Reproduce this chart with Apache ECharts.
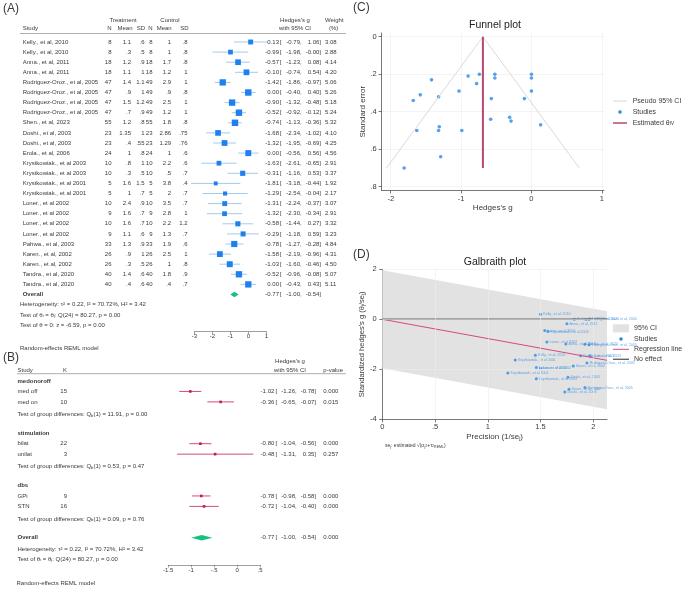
<!DOCTYPE html>
<html>
<head>
<meta charset="utf-8">
<script src="https://cdn.jsdelivr.net/npm/echarts@6/dist/echarts.min.js"></script>
<style>
  html, body { margin: 0; padding: 0; background: #fff; }
  #chart { width: 689px; height: 591px; }
</style>
</head>
<body>
<div id="chart"></div>
<script>
// ---------- (A) forest plot data
const studies = [
  'Kelly., et al, 2010', 'Kelly., et al, 2010', 'Anna., et al, 2011', 'Anna., et al, 2011',
  'Rodriguez-Oroz., et al, 2005', 'Rodriguez-Oroz., et al, 2005', 'Rodriguez-Oroz., et al, 2005', 'Rodriguez-Oroz., et al, 2005',
  'Shen., et al, 2023', 'Doshi., et al, 2003', 'Doshi., et al, 2003', 'Erola., et al, 2006',
  'Krystkowiak., et al 2003', 'Krystkowiak., et al 2003', 'Krystkowiak., et al 2001', 'Krystkowiak., et al 2001',
  'Loner., et al 2002', 'Loner., et al 2002', 'Loner., et al 2002', 'Loner., et al 2002',
  'Pahwa., et al, 2003', 'Karen., et al, 2002', 'Karen., et al, 2002', 'Tandra., et al, 2020', 'Tandra., et al, 2020'
]
const nT    = [8, 8, 18, 18, 47, 47, 47, 47, 55, 23, 23, 24, 10, 10, 5, 5, 10, 9, 10, 9, 33, 26, 26, 40, 40]
const meanT = [1.1, 0.3, 1.2, 1.1, 1.4, 0.9, 1.5, 0.7, 1.2, 1.35, 0.4, 1, 0.8, 0.3, 1.6, 1, 2.4, 1.6, 1.6, 1.1, 1.3, 0.9, 0.3, 1.4, 0.4]
const sdT   = [0.6, 0.5, 0.9, 1, 1.1, 1, 1.2, 0.9, 0.8, 1, 0.55, 0.8, 1, 0.5, 1.5, 0.7, 0.9, 0.7, 0.7, 0.6, 0.9, 1, 0.5, 0.6, 0.6]
const nC    = [8, 8, 18, 18, 49, 49, 49, 49, 55, 23, 23, 24, 10, 10, 5, 5, 10, 9, 10, 9, 33, 26, 26, 40, 40]
const meanC = [1, 1, 1.7, 1.2, 2.9, 0.9, 2.5, 1.2, 1.8, 2.86, 1.29, 1, 2.2, 0.5, 3.8, 2, 3.5, 2.8, 2.2, 1.3, 1.9, 2.5, 1, 1.8, 0.4]
const sdC   = [0.8, 0.8, 0.8, 1, 1, 0.8, 1, 1, 0.8, 0.75, 0.76, 0.6, 0.6, 0.7, 0.4, 0.7, 0.7, 1, 1.2, 0.7, 0.6, 1, 0.8, 0.9, 0.7]
const hedgesG = [0.13, -0.99, -0.57, -0.10, -1.42, 0.00, -0.90, -0.52, -0.74, -1.68, -1.32, 0.00, -1.63, -0.31, -1.81, -1.29, -1.31, -1.32, -0.58, -0.29, -0.78, -1.58, -1.03, -0.52, 0.00]
const ciLow   = [-0.79, -1.98, -1.23, -0.74, -1.86, -0.40, -1.32, -0.92, -1.13, -2.34, -1.95, -0.56, -2.61, -1.16, -3.18, -2.54, -2.24, -2.30, -1.44, -1.18, -1.27, -2.19, -1.60, -0.96, -0.43]
const ciHigh  = [1.06, -0.00, 0.08, 0.54, -0.97, 0.40, -0.48, -0.12, -0.36, -1.02, -0.69, 0.56, -0.65, 0.53, -0.44, -0.04, -0.37, -0.34, 0.27, 0.59, -0.28, -0.96, -0.46, -0.08, 0.43]
const weights = [3.08, 2.88, 4.14, 4.20, 5.06, 5.26, 5.18, 5.24, 5.32, 4.10, 4.25, 4.56, 2.91, 3.37, 1.92, 2.17, 3.07, 2.91, 3.32, 3.23, 4.84, 4.31, 4.50, 5.07, 5.11]
const overallEst = [-0.77, -1.00, -0.54]

// ---------- (B) subgroup data
const groupNames  = ['medonoroff', 'stimulation', 'dbs']
const groupLevels = [['med off', 'med on'], ['bilat', 'unilat'], ['GPi', 'STN']]
const groupK    = [[15, 10], [22, 3], [9, 16]]
const groupG    = [[-1.02, -0.36], [-0.80, -0.48], [-0.78, -0.72]]
const groupLow  = [[-1.26, -0.65], [-1.04, -1.31], [-0.98, -1.04]]
const groupHigh = [[-0.78, -0.07], [-0.56, 0.35], [-0.58, -0.40]]
const groupP    = [['0.000', '0.015'], ['0.000', '0.257'], ['0.000', '0.000']]
const groupQ    = ['11.91', '0.53', '0.09']
const groupQp   = ['0.00', '0.47', '0.76']

// ---------- (C) funnel plot data
const stdErr = [0.47, 0.50, 0.33, 0.33, 0.23, 0.20, 0.21, 0.20, 0.20, 0.34, 0.32, 0.29, 0.50, 0.43, 0.70, 0.64, 0.48, 0.50, 0.44, 0.45, 0.25, 0.31, 0.29, 0.22, 0.22]
const pseudoX = [-2.06, -0.69, 0.68]
const pseudoY = [0.70, 0, 0.70]
const thetaX = [-0.69, -0.69]
const thetaY = [0, 0.70]

// ---------- (D) galbraith plot data
const precision = [1.50, 1.45, 1.74, 1.75, 1.92, 1.96, 1.94, 1.96, 1.97, 1.73, 1.76, 1.82, 1.46, 1.57, 1.19, 1.26, 1.50, 1.46, 1.56, 1.54, 1.88, 1.77, 1.81, 1.92, 1.93]
const stdG      = [0.20, -1.44, -0.99, -0.18, -2.73, 0.00, -1.75, -1.02, -1.46, -2.91, -2.32, 0.00, -2.38, -0.49, -2.15, -1.63, -1.96, -1.93, -0.91, -0.45, -1.46, -2.80, -1.87, -1.00, 0.00]
const bandX   = [0, 2.13]
const bandUp  = [1.96, 0.32]
const bandLow = [-1.96, -3.60]
const regX = [0, 2.13]
const regY = [0, -1.64]

// ---------- tick labels
const forestATicks = [-3, -2, -1, 0, 1]
const forestBTicks = [-1.5, -1, -0.5, 0, 0.5]
const funnelXTicks = [-2, -1, 0, 1]
const funnelYTicks = [0, 0.2, 0.4, 0.6, 0.8]
const galXTicks = [0, 0.5, 1, 1.5, 2]
const galYTicks = [-4, -2, 0, 2]

const FONT = '"Liberation Sans", Arial, Helvetica, sans-serif'
const TXT = '#3a3a3a'
const FS = 6

// stata style number: .5 instead of 0.5
const short = v => String(+v.toFixed(2)).replace(/^(-?)0\./, '$1.')
const f2 = v => ((v < 0 || Object.is(v, -0)) ? '-' : '') + Math.abs(v).toFixed(2)

const chart = echarts.init(document.getElementById('chart'))

// text drawn in a table grid (x in px units, y in rows)
function textSeries(idx, items) {
  return {
    type: 'custom', xAxisIndex: idx, yAxisIndex: idx, clip: false, silent: true, z: 5,
    data: items.map(it => [it.x, it.row]),
    renderItem: (params, api) => {
      const it = items[params.dataIndex]
      const p = api.coord([api.value(0), api.value(1)])
      return {
        type: 'text', x: p[0], y: p[1],
        style: {
          text: String(it.text), fontSize: FS, fontFamily: FONT, fill: TXT,
          fontWeight: it.bold ? 'bold' : 'normal',
          textAlign: it.align || 'left', align: it.align || 'left',
          textVerticalAlign: 'middle', verticalAlign: 'middle', rich: it.rich
        }
      }
    }
  }
}

const subRich = {
  a: { fontSize: FS, fontFamily: FONT, color: TXT },
  b: { fontSize: 4.2, fontFamily: FONT, color: TXT, verticalAlign: 'bottom' },
  c: { fontSize: 4.2, fontFamily: FONT, color: TXT, verticalAlign: 'top' }
}

// ---- table A items
const tableA = []
const colsA = [
  [nT, 111.5, 'right', v => v], [meanT, 131, 'right', short], [sdT, 144.5, 'right', short],
  [nC, 152.5, 'right', v => v], [meanC, 171.2, 'right', short], [sdC, 187.5, 'right', short]
]
studies.forEach((s, i) => {
  tableA.push({ x: 22.7, row: i, text: s })
  colsA.forEach(c => tableA.push({ x: c[1], row: i, text: c[3](c[0][i]), align: c[2] }))
  tableA.push({ x: 279, row: i, text: f2(hedgesG[i]), align: 'right' })
  tableA.push({ x: 280, row: i, text: '[' })
  tableA.push({ x: 301.7, row: i, text: f2(ciLow[i]) + ',', align: 'right' })
  tableA.push({ x: 321, row: i, text: f2(ciHigh[i]) + ']', align: 'right' })
  tableA.push({ x: 325, row: i, text: weights[i].toFixed(2) })
})
const rowOverallA = studies.length
tableA.push({ x: 22.7, row: rowOverallA, text: 'Overall', bold: true })
tableA.push({ x: 279, row: rowOverallA, text: f2(overallEst[0]), align: 'right' })
tableA.push({ x: 280, row: rowOverallA, text: '[' })
tableA.push({ x: 301.7, row: rowOverallA, text: f2(overallEst[1]) + ',', align: 'right' })
tableA.push({ x: 321, row: rowOverallA, text: f2(overallEst[2]) + ']', align: 'right' })

// ---- table B items
const tableB = []
const forestB = []
groupNames.forEach((gname, j) => {
  const base = j * 5
  tableB.push({ x: 17.5, row: base, text: gname, bold: true })
  groupLevels[j].forEach((lv, m) => {
    const r = base + 1 + m
    tableB.push({ x: 17.5, row: r, text: lv })
    tableB.push({ x: 67, row: r, text: groupK[j][m], align: 'right' })
    tableB.push({ x: 274.3, row: r, text: f2(groupG[j][m]), align: 'right' })
    tableB.push({ x: 275.5, row: r, text: '[' })
    tableB.push({ x: 296.7, row: r, text: f2(groupLow[j][m]) + ',', align: 'right' })
    tableB.push({ x: 316, row: r, text: f2(groupHigh[j][m]) + ']', align: 'right' })
    tableB.push({ x: 323.3, row: r, text: groupP[j][m] })
    forestB.push([groupG[j][m], r, groupLow[j][m], groupHigh[j][m]])
  })
  tableB.push({
    x: 17.5, row: base + 3.2, text: '{a|Test of group differences: Q}{b|b}{a|(1) = ' + groupQ[j] + ', p = ' + groupQp[j] + '}',
    rich: subRich
  })
})
const rowOverallB = 15
tableB.push({ x: 17.5, row: rowOverallB, text: 'Overall', bold: true })
tableB.push({ x: 274.3, row: rowOverallB, text: f2(overallEst[0]), align: 'right' })
tableB.push({ x: 275.5, row: rowOverallB, text: '[' })
tableB.push({ x: 296.7, row: rowOverallB, text: f2(overallEst[1]) + ',', align: 'right' })
tableB.push({ x: 316, row: rowOverallB, text: f2(overallEst[2]) + ']', align: 'right' })
tableB.push({ x: 323.3, row: rowOverallB, text: '0.000' })

function diamond(idx, row, color) {
  return {
    type: 'custom', xAxisIndex: idx, yAxisIndex: idx, clip: false, silent: true,
    data: [[overallEst[0], row]],
    renderItem: (params, api) => {
      const l = api.coord([overallEst[1], row]), c = api.coord([overallEst[0], row]), h = api.coord([overallEst[2], row])
      return { type: 'polygon', shape: { points: [[l[0], l[1]], [c[0], c[1] - 2.8], [h[0], h[1]], [c[0], c[1] + 2.8]] }, style: { fill: color } }
    }
  }
}

function forestAxis(idx, min, max, ticks, margin) {
  return {
    gridIndex: idx, type: 'value', min, max, interval: ticks[1] - ticks[0],
    axisLine: { onZero: false, lineStyle: { color: '#777', width: 0.7 } },
    axisTick: { length: 2.5, lineStyle: { color: '#777', width: 0.7 } },
    axisLabel: { fontSize: FS, fontFamily: FONT, color: TXT, margin, formatter: short },
    splitLine: { show: false }
  }
}
const hidden = (idx, min, max, inverse) => ({ gridIndex: idx, type: 'value', min, max, inverse, show: false })

const A_TOP = 42, A_STEP = 10.1, A_ROWS = 28.68
const B_TOP = 381, B_STEP = 10.45, B_ROWS = 17.6

const axisCommon = {
  axisLine: { onZero: false, lineStyle: { color: '#555', width: 0.8 } },
  axisTick: { length: 3, lineStyle: { color: '#555', width: 0.8 } },
  splitLine: { show: false },
  nameLocation: 'middle',
  nameTextStyle: { fontSize: 8, fontFamily: FONT, color: TXT }
}
const labelStyle = { fontSize: 7.5, fontFamily: FONT, color: TXT, formatter: short }

const gridLine = { color: '#ececec', width: 0.6, type: 'solid' }

function T(x, y, text, o) {
  o = o || {}
  return {
    type: 'text', x, y, silent: true, z: 10,
    style: {
      text, fontSize: o.size || FS, fontFamily: FONT, fill: o.color || TXT,
      fontWeight: o.bold ? 'bold' : 'normal',
      textAlign: o.align || 'left', align: o.align || 'left',
      textVerticalAlign: 'middle', verticalAlign: 'middle', rich: o.rich
    }
  }
}
const L = (x1, y1, x2, y2, color, w) => ({ type: 'line', silent: true, shape: { x1, y1, x2, y2 }, style: { stroke: color, lineWidth: w } })

const legRich = {
  a: { fontSize: 7, fontFamily: FONT, color: TXT },
  b: { fontSize: 4.6, fontFamily: FONT, color: TXT, verticalAlign: 'bottom' }
}
const noteRich = {
  a: { fontSize: 5, fontFamily: FONT, color: TXT },
  b: { fontSize: 3.6, fontFamily: FONT, color: TXT, verticalAlign: 'bottom' },
  c: { fontSize: 3.6, fontFamily: FONT, color: TXT, verticalAlign: 'top' }
}

const graphics = [
  // panel A header
  T(3, 9, '(A)', { size: 12 }),
  T(123, 20, 'Treatment', { align: 'center' }),
  T(170, 20, 'Control', { align: 'center' }),
  T(295, 20, "Hedges's g", { align: 'center' }),
  T(325, 20, 'Weight'),
  T(22.7, 28.7, 'Study'),
  T(111.5, 28.7, 'N', { align: 'right' }), T(132.5, 28.7, 'Mean', { align: 'right' }), T(145, 28.7, 'SD', { align: 'right' }),
  T(152.5, 28.7, 'N', { align: 'right' }), T(171.7, 28.7, 'Mean', { align: 'right' }), T(188.5, 28.7, 'SD', { align: 'right' }),
  T(295, 28.7, 'with 95% CI', { align: 'center' }),
  T(329, 28.7, '(%)'),
  L(20, 33.5, 346, 33.5, '#8a8a8a', 0.7),
  T(20, 304.3, 'Heterogeneity: τ² = 0.22, I² = 70.72%, H² = 3.42'),
  T(20, 315, '{a|Test of θ}{b|i}{a| = θ}{b|j}{a|: Q(24) = 80.27, p = 0.00}', { rich: subRich }),
  T(20, 325.3, 'Test of θ = 0: z = -6.59, p = 0.00'),
  T(20, 348.3, 'Random-effects REML model'),
  // panel B header
  T(3, 358, '(B)', { size: 12 }),
  T(290, 361.7, "Hedges's g", { align: 'center' }),
  T(290, 370, 'with 95% CI', { align: 'center' }),
  T(17.5, 370, 'Study'),
  T(67, 370, 'K', { align: 'right' }),
  T(323.3, 370, 'p-value'),
  L(17, 373.7, 346, 373.7, '#8a8a8a', 0.7),
  T(17.5, 549, 'Heterogeneity: τ² = 0.22, I² = 70.72%, H² = 3.42'),
  T(17.5, 559.3, '{a|Test of θ}{b|i}{a| = θ}{b|j}{a|: Q(24) = 80.27, p = 0.00}', { rich: subRich }),
  T(16.5, 583.3, 'Random-effects REML model'),
  // panel C
  T(353, 8, '(C)', { size: 12 }),
  T(495, 25, 'Funnel plot', { size: 10.5, align: 'center', color: '#222' }),
  L(613, 101, 627, 101, '#d6d6d6', 1),
  T(632.7, 101, 'Pseudo 95% CI', { size: 7 }),
  { type: 'circle', silent: true, shape: { cx: 620, cy: 112, r: 1.8 }, style: { fill: '#2a8ae6' } },
  T(632.7, 112, 'Studies', { size: 7 }),
  L(613, 123, 627, 123, '#b8486e', 1.5),
  T(632.7, 123, '{a|Estimated θ}{b|IV}', { rich: legRich }),
  // panel D
  T(353, 255, '(D)', { size: 12 }),
  T(495, 261.7, 'Galbraith plot', { size: 10.5, align: 'center', color: '#222' }),
  { type: 'rect', silent: true, shape: { x: 613, y: 324.3, width: 16, height: 8 }, style: { fill: '#e2e2e2' } },
  T(634, 328.3, '95% CI', { size: 7 }),
  { type: 'circle', silent: true, shape: { cx: 621, cy: 339, r: 1.8 }, style: { fill: '#2a8ae6' } },
  T(634, 339, 'Studies', { size: 7 }),
  L(613, 349.3, 629, 349.3, '#d54a7c', 1),
  T(634, 349.3, 'Regression line', { size: 7 }),
  L(613, 359.3, 629, 359.3, '#666', 1.4),
  T(634, 359.3, 'No effect', { size: 7 }),
  T(385, 446, '{a|se}{b|j}{a|: estimated √(σ}{b|j}{c|2}{a|+τ}{c|2}{b|REML}{a|)}', { rich: noteRich })
]

chart.setOption({
  animation: false,
  graphic: { elements: graphics },
  grid: [
    { left: 0, width: 689, top: A_TOP, height: A_ROWS * A_STEP },
    { left: 194.3, width: 72, top: A_TOP, height: A_ROWS * A_STEP },
    { left: 0, width: 689, top: B_TOP, height: B_ROWS * B_STEP },
    { left: 168.2, width: 92, top: B_TOP, height: B_ROWS * B_STEP },
    { left: 381.6, width: 222.3, top: 32.95, height: 157.5 },
    { left: 382.3, width: 224.7, top: 269.3, height: 150 }
  ],
  xAxis: [
    hidden(0, 0, 689, false),
    forestAxis(1, -3, 1, forestATicks, 1.5),
    hidden(2, 0, 689, false),
    forestAxis(3, -1.5, 0.5, forestBTicks, 2.5),
    Object.assign({}, axisCommon, {
      gridIndex: 4, type: 'value', min: -2.13, max: 1.03,
      axisTick: Object.assign({}, axisCommon.axisTick, { customValues: funnelXTicks }),
      axisLabel: Object.assign({}, labelStyle, { customValues: funnelXTicks, margin: 4.5 }),
      name: "Hedges's g", nameGap: 12.8
    }),
    Object.assign({}, axisCommon, {
      gridIndex: 5, type: 'value', min: 0, max: 2.13,
      axisTick: Object.assign({}, axisCommon.axisTick, { customValues: galXTicks }),
      axisLabel: Object.assign({}, labelStyle, { customValues: galXTicks, margin: 3.7 }),
      name: '{a|Precision (1/se}{b|j}{a|)}', nameGap: 13.4,
      nameTextStyle: { rich: { a: { fontSize: 8, fontFamily: FONT, color: TXT }, b: { fontSize: 5.4, fontFamily: FONT, color: TXT, verticalAlign: 'bottom' } } }
    })
  ],
  yAxis: [
    hidden(0, 0, A_ROWS, true),
    hidden(1, 0, A_ROWS, true),
    hidden(2, 0, B_ROWS, true),
    hidden(3, 0, B_ROWS, true),
    Object.assign({}, axisCommon, {
      gridIndex: 4, type: 'value', min: -0.02, max: 0.82, inverse: true,
      axisTick: Object.assign({}, axisCommon.axisTick, { customValues: funnelYTicks }),
      axisLabel: Object.assign({}, labelStyle, { customValues: funnelYTicks, margin: 5 }),
      name: 'Standard error', nameGap: 14.9, nameRotate: 90
    }),
    Object.assign({}, axisCommon, {
      gridIndex: 5, type: 'value', min: -4, max: 2,
      axisTick: Object.assign({}, axisCommon.axisTick, { customValues: galYTicks }),
      axisLabel: Object.assign({}, labelStyle, { customValues: galYTicks, margin: 5.6 }),
      name: "{a|Standardized hedges's g (θ}{b|j}{a|/se}{b|j}{a|)}", nameGap: 15.2, nameRotate: 90,
      nameTextStyle: { rich: { a: { fontSize: 7.5, fontFamily: FONT, color: TXT }, b: { fontSize: 5, fontFamily: FONT, color: TXT, verticalAlign: 'bottom' } } }
    })
  ],
  series: [
    textSeries(0, tableA),
    {
      type: 'custom', xAxisIndex: 1, yAxisIndex: 1, clip: false, silent: true,
      data: hedgesG.map((g, i) => [g, i, ciLow[i], ciHigh[i], weights[i]]),
      renderItem: (params, api) => {
        const r = api.value(1)
        const pl = api.coord([api.value(2), r]), ph = api.coord([api.value(3), r]), pg = api.coord([api.value(0), r])
        const s = Math.sqrt(api.value(4)) * 2.8
        return {
          type: 'group', children: [
            { type: 'line', shape: { x1: pl[0], y1: pl[1], x2: ph[0], y2: ph[1] }, style: { stroke: '#a2cbec', lineWidth: 1 } },
            { type: 'rect', shape: { x: pg[0] - s / 2, y: pg[1] - s / 2, width: s, height: s }, style: { fill: '#1f80ee' } }
          ]
        }
      }
    },
    diamond(1, rowOverallA, '#14c17f'),
    textSeries(2, tableB),
    {
      type: 'custom', xAxisIndex: 3, yAxisIndex: 3, clip: false, silent: true,
      data: forestB,
      renderItem: (params, api) => {
        const r = api.value(1)
        const pl = api.coord([api.value(2), r]), ph = api.coord([api.value(3), r]), pg = api.coord([api.value(0), r])
        return {
          type: 'group', children: [
            { type: 'line', shape: { x1: pl[0], y1: pl[1], x2: ph[0], y2: ph[1] }, style: { stroke: '#cc3a6c', lineWidth: 0.9 } },
            { type: 'rect', shape: { x: pg[0] - 1.3, y: pg[1] - 1.3, width: 2.6, height: 2.6 }, style: { fill: '#c2185b' } }
          ]
        }
      }
    },
    diamond(3, rowOverallB, '#14c17f'),
    // funnel
    {
      type: 'line', xAxisIndex: 4, yAxisIndex: 4, showSymbol: false, silent: true,
      data: pseudoX.map((x, i) => [x, pseudoY[i]]),
      lineStyle: { color: '#d9d9d9', width: 1 },
      markLine: {
        silent: true, symbol: 'none', label: { show: false }, lineStyle: gridLine, z: 0,
        data: funnelXTicks.map(v => ({ xAxis: v })).concat(funnelYTicks.map(v => ({ yAxis: v })))
      }
    },
    {
      type: 'line', xAxisIndex: 4, yAxisIndex: 4, showSymbol: false, silent: true,
      data: thetaX.map((x, i) => [x, thetaY[i]]),
      lineStyle: { color: '#b8486e', width: 2 }
    },
    {
      type: 'scatter', xAxisIndex: 4, yAxisIndex: 4, silent: true, symbolSize: 3.6,
      data: hedgesG.map((g, i) => [g, stdErr[i]]),
      itemStyle: { color: '#2a8ae6' }
    },
    // galbraith
    {
      type: 'custom', xAxisIndex: 5, yAxisIndex: 5, silent: true,
      data: [[bandX[0], bandUp[0]]],
      renderItem: (params, api) => {
        const pts = [
          api.coord([bandX[0], bandUp[0]]), api.coord([bandX[1], bandUp[1]]),
          api.coord([bandX[1], bandLow[1]]), api.coord([bandX[0], bandLow[0]])
        ]
        return { type: 'polygon', shape: { points: pts }, style: { fill: '#e2e2e2' } }
      }
    },
    {
      type: 'line', xAxisIndex: 5, yAxisIndex: 5, showSymbol: false, silent: true,
      data: regX.map(x => [x, 0]),
      lineStyle: { color: '#666', width: 1.4 },
      markLine: {
        silent: true, symbol: 'none', label: { show: false }, lineStyle: gridLine,
        data: galXTicks.filter(v => v > 0).map(v => ({ xAxis: v })).concat(galYTicks.filter(v => v > -4).map(v => ({ yAxis: v })))
      }
    },
    {
      type: 'line', xAxisIndex: 5, yAxisIndex: 5, showSymbol: false, silent: true,
      data: regX.map((x, i) => [x, regY[i]]),
      lineStyle: { color: '#d54a7c', width: 1 }
    },
    {
      type: 'scatter', xAxisIndex: 5, yAxisIndex: 5, silent: true, symbolSize: 3,
      data: precision.map((x, i) => [x, stdG[i]]),
      itemStyle: { color: '#2a8ae6' },
      label: {
        show: true, position: 'right', distance: 1.2, fontSize: 3.6, fontFamily: FONT, color: '#3f92e4',
        formatter: p => studies[p.dataIndex]
      }
    }
  ]
})
</script>
</body>
</html>
